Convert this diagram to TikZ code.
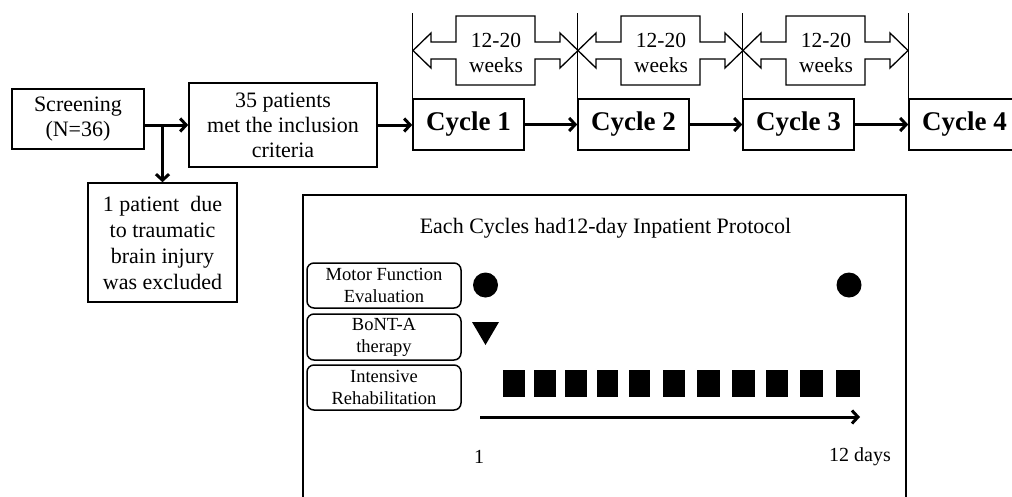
\documentclass[tikz,border=0pt]{standalone}
\usepackage{fontspec}
\setmainfont{Liberation Serif}
\usetikzlibrary{arrows.meta}
\begin{document}
\begin{tikzpicture}[x=1pt,y=-1pt,
  box/.style={draw, line width=1.6pt, inner sep=0pt, align=center, font=\fontsize{22}{25}\selectfont},
  cyc/.style={draw, line width=1.6pt, inner sep=0pt, minimum width=111pt, minimum height=51pt, font=\fontsize{27}{30}\selectfont\bfseries},
  rbox/.style={draw, line width=1.5pt, rounded corners=7pt, inner sep=0pt, minimum width=154pt, align=center, font=\fontsize{18.5}{22}\selectfont},
  arr/.style={line width=3pt, -{Straight Barb[length=6pt,width=13pt]}},
  vline/.style={line width=1.3pt},
  wkshape/.style={draw, line width=1.3pt, fill=white},
  wk/.style={align=center, inner sep=0pt, font=\fontsize{21.5}{25}\selectfont},
  dot/.style={circle, fill, inner sep=0pt, minimum size=25pt},
  lab/.style={inner sep=0pt, font=\fontsize{20}{24}\selectfont}
]
\useasboundingbox (0,0) rectangle (1012,496);
\clip (0,0) rectangle (1012,496);

% flow boxes
\node[box, minimum width=132pt, minimum height=60pt] (scr) at (78,119) {Screening\\(N=36)};
\node[box, minimum width=188pt, minimum height=84pt] (inc) at (283,125) {35 patients\\met the inclusion\\criteria};
\node[box, minimum width=149pt, minimum height=119pt, font=\fontsize{22}{26}\selectfont] (exc) at (162.5,242.5) {1 patient~ due\\to traumatic\\brain injury\\was excluded};

\node[cyc] (c1) at (468.5,124.5) {Cycle 1};
\node[cyc] (c2) at (633.5,124.5) {Cycle 2};
\node[cyc] (c3) at (798.5,124.5) {Cycle 3};
\node[cyc] (c4) at (964.5,124.5) {Cycle 4};

\draw[arr] (scr.east |- inc.west) -- (inc.west);
\draw[arr] (exc.north |- inc.west) -- (exc.north);
\draw[arr] (inc.east) -- (inc.east -| c1.west);
\draw[arr] (c1.east) -- (c2.west);
\draw[arr] (c2.east) -- (c3.west);
\draw[arr] (c3.east) -- (c4.west);

% vertical markers
\foreach \c in {c1,c2,c3,c4}
  \draw[vline] (\c.north west) -- ++(0,-85);

% 12-20 weeks double arrows
\foreach \L/\n in {413/a,578/b,743/c}{
  \begin{scope}[shift={(\L,0)}]
    \draw[wkshape] (0,50.5) -- (18,33) -- (18,42) -- (43,42) -- (43,16) -- (122,16) -- (122,42)
      -- (147,42) -- (147,33) -- (165,50.5) -- (147,68) -- (147,59) -- (122,59) -- (122,85)
      -- (43,85) -- (43,59) -- (18,59) -- (18,68) -- cycle;
    \node[wk] (w\n) at (83,52.5) {12-20\\weeks};
  \end{scope}
}

% protocol frame
\node[draw, line width=1.5pt, minimum width=603pt, minimum height=330pt, anchor=north west, inner sep=0pt] (frame) at (302,194) {};
\node[inner sep=0pt, font=\fontsize{22}{25}\selectfont] (title) at (605.5,228) {Each Cycles had12-day Inpatient Protocol};

\node[rbox, minimum height=45pt] (mfe) at (384,285.5) {Motor Function\\Evaluation};
\node[rbox, minimum height=46pt] (bont) at (384,337) {BoNT-A\\therapy};
\node[rbox, minimum height=45pt] (rehab) at (384,387.5) {Intensive\\Rehabilitation};

\node[dot] (e1) at (485.5,285) {};
\node[dot] (e2) at (849,285) {};
\fill (472,322) -- (499,322) -- (485.5,345) -- cycle;

\foreach \l/\r in {503/525,534/556,565/587,597/618,629/650,663/685,697/720,732/755,766/788,800/823,836/860}
  \fill (\l,370) rectangle (\r,397);

\coordinate (t0) at (480,417);
\coordinate (t1) at (860,417);
\draw[arr] (t0) -- (t1);

\node[lab] (day1) at (479,457) {1};
\node[lab] (day12) at (860,457) {12 days};
\end{tikzpicture}
\end{document}
